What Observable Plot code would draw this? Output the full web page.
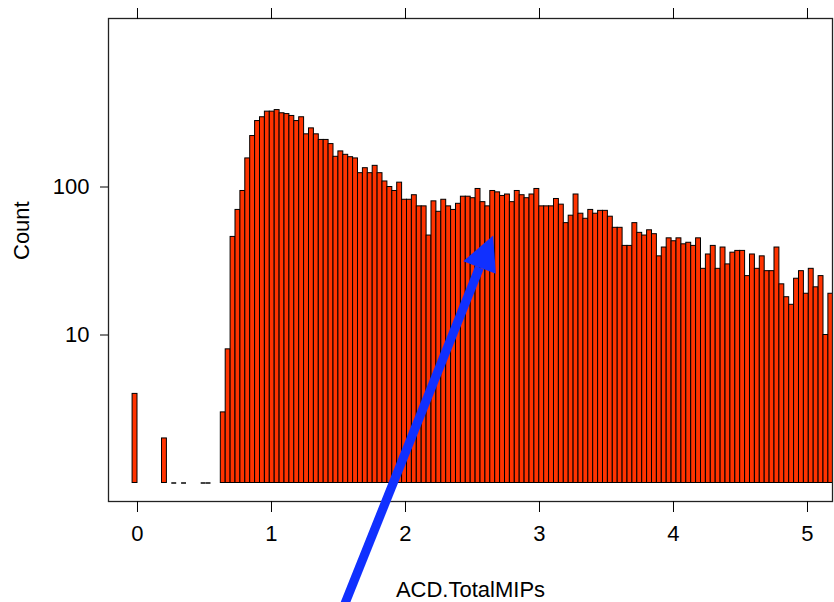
<!DOCTYPE html>
<html>
<head>
<meta charset="utf-8">
<script src="https://cdn.jsdelivr.net/npm/d3@7"></script>
<script src="https://cdn.jsdelivr.net/npm/@observablehq/plot@0.6"></script>
<style>
  html, body { margin: 0; padding: 0; background: #fff; }
  #chart { width: 834px; height: 602px; overflow: hidden; }
</style>
</head>
<body>
<div id="chart"></div>
<script>
// Histogram of ACD.TotalMIPs (log-scaled counts)
const binWidth = 0.036567;
const firstBinStart = -0.036567;
const counts = [
  4, 0, 0, 0, 0, 0, 2, 0, 1, 0, 1, 0, 0, 0, 1, 1, 0, 0, 3, 8,
  46, 70, 94, 156, 221, 279, 296, 323, 323, 331,
  315, 311, 302, 279, 296, 227, 249, 227, 208, 208,
  195, 160, 174, 165, 159, 156, 124, 134, 124, 139,
  124, 109, 100, 94, 107, 82, 82, 88, 74, 74,
  47, 80, 68, 82, 74, 70, 77, 86, 86, 84,
  97, 79, 74, 94, 92, 87, 89, 79, 94, 88,
  84, 89, 97, 74, 74, 74, 83, 76, 57, 64,
  89, 66, 61, 70, 66, 69, 69, 63, 53, 53,
  40, 40, 57, 49, 47, 51, 48, 34, 39, 45,
  43, 45, 41, 42, 40, 45, 28, 35, 40, 28,
  39, 30, 36, 37, 37, 25, 35, 28, 34, 27,
  27, 39, 22, 18, 16, 24, 27, 19, 28, 21,
  25, 10, 19
];
const xTicks = [0, 1, 2, 3, 4, 5];
const yTicks = [10, 100];
const xTitle = "ACD.TotalMIPs";
const yTitle = "Count";
const xDomain = [-0.2164, 5.1866];
const yDomain = [0.7499, 1375.8];
// annotation arrow (data coordinates)
const arrowShaft = [{x: 1.528, y: 0.138}, {x: 2.552, y: 28.6}];
const arrowHead = [{x: 2.654, y: 47.0}, {x: 2.431, y: 31.5}, {x: 2.674, y: 25.9}];

const bins = counts.map((count, i) => ({
  x1: firstBinStart + i * binWidth,
  x2: firstBinStart + (i + 1) * binWidth,
  count
}));
const bars = bins.filter(d => d.count > 1);
const dashes = bins.filter(d => d.count === 1);

const chart = Plot.plot({
  width: 834,
  height: 602,
  marginLeft: 108,
  marginRight: 2,
  marginTop: 18,
  marginBottom: 101,
  style: {fontFamily: "'Liberation Sans', Arial, sans-serif", fontSize: "22px", color: "#000", background: "#fff"},
  x: {domain: xDomain},
  y: {type: "log", domain: yDomain},
  marks: [
    Plot.rectY(bars, {x1: "x1", x2: "x2", y1: 1, y2: "count", fill: "#ff3300", stroke: "#000", strokeWidth: 1, clip: true}),
    Plot.ruleY(dashes, {y: 1, x1: "x1", x2: "x2", stroke: "#444", strokeWidth: 2, clip: true}),
    Plot.frame({stroke: "#222", strokeWidth: 1.3}),
    Plot.axisX({anchor: "bottom", ticks: xTicks, tickSize: 11, tickPadding: 13, tickFormat: d => String(d), label: null}),
    Plot.axisX({anchor: "top", ticks: xTicks, tickSize: 11, tickFormat: () => "", label: null}),
    Plot.axisY({anchor: "left", ticks: yTicks, tickSize: 8, tickPadding: 11, tickFormat: d => String(d), label: null}),
    Plot.text([xTitle], {text: d => d, frameAnchor: "bottom", dy: 95.7, lineAnchor: "bottom", fill: "#000"}),
    Plot.text([yTitle], {text: d => d, frameAnchor: "left", rotate: -90, dx: -87, lineAnchor: "middle", fill: "#000"}),
    Plot.line(arrowShaft, {x: "x", y: "y", stroke: "#1030ff", strokeWidth: 9, strokeLinecap: "butt"}),
    Plot.line(arrowHead, {x: "x", y: "y", fill: "#1030ff", stroke: "none"})
  ]
});
document.getElementById("chart").appendChild(chart);
</script>
</body>
</html>
